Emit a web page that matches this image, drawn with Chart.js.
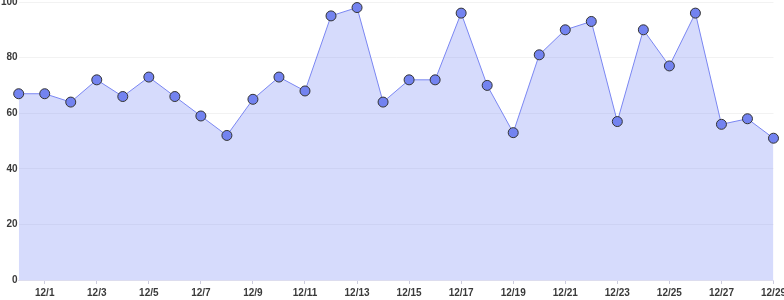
<!DOCTYPE html>
<html>
<head>
<meta charset="utf-8">
<script src="https://cdn.jsdelivr.net/npm/chart.js@4/dist/chart.umd.min.js"></script>
<style>
    html, body { margin: 0; padding: 0; background: #fff; }
    #wrap { position: relative; width: 784px; height: 300px; overflow: hidden; }
    #wrap canvas { position: absolute; left: 0; top: -5px; }
</style>
</head>
<body>
<div id="wrap"><canvas id="evoChart" width="789" height="307"></canvas></div>
<script>
const days = ["11/30", "12/1", "12/2", "12/3", "12/4", "12/5", "12/6", "12/7", "12/8", "12/9",
    "12/10", "12/11", "12/12", "12/13", "12/14", "12/15", "12/16", "12/17", "12/18", "12/19",
    "12/20", "12/21", "12/22", "12/23", "12/24", "12/25", "12/26", "12/27", "12/28", "12/29"];
const values = [67, 67, 64, 72, 66, 73, 66, 59, 52, 65,
    73, 68, 95, 98, 64, 72, 72, 96, 70, 53,
    81, 90, 93, 57, 90, 77, 96, 56, 58, 51];
const yTicks = [0, 20, 40, 60, 80, 100];

const ctx = document.getElementById("evoChart").getContext("2d");
const tickFont = { family: "Liberation Sans, Arial, sans-serif", size: 10, weight: "bold" };

new Chart(ctx, {
    type: "line",
    data: {
        labels: days,
        datasets: [{
            data: values,
            borderColor: "#7a86f2",
            borderWidth: 1,
            backgroundColor: "rgba(120,135,245,0.3)",
            pointBackgroundColor: "#7383f0",
            pointBorderColor: "#333",
            pointBorderWidth: 1,
            pointRadius: 5,
            fill: "origin",
            tension: 0
        }]
    },
    options: {
        responsive: false,
        animation: false,
        plugins: { legend: { display: false }, tooltip: { enabled: false } },
        layout: { padding: 0 },
        scales: {
            x: {
                grid: { drawOnChartArea: false, tickLength: 4, color: "#ccd" },
                border: { color: "#dde" },
                ticks: {
                    color: "#3a3a3a",
                    font: tickFont,
                    maxRotation: 0,
                    autoSkip: false,
                    padding: 3,
                    callback: (v, i) => (i % 2 === 1 ? days[i] : null)
                }
            },
            y: {
                min: 0,
                max: 100,
                afterBuildTicks: axis => { axis.ticks = yTicks.map(v => ({ value: v })); },
                grid: { color: "#f2f2f2", drawTicks: false },
                border: { display: false },
                ticks: { color: "#3a3a3a", font: tickFont, padding: 1 }
            }
        }
    }
});
</script>
</body>
</html>
